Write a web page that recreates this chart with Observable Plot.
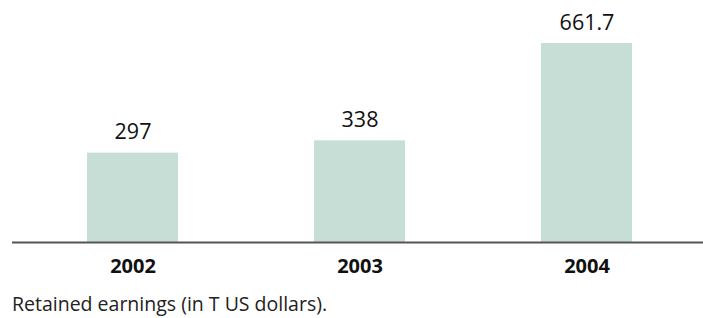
<!DOCTYPE html>
<html><head><meta charset="utf-8">
<script src="https://cdn.jsdelivr.net/npm/d3@7"></script>
<script src="https://cdn.jsdelivr.net/npm/@observablehq/plot@0.6"></script>
<style>
body{margin:0;background:#fff;font-family:"Open Sans",sans-serif;}
#cap{font-family:"Open Sans",sans-serif;font-size:19.5px;line-height:26px;color:#222;margin-left:12px;margin-top:5px;}
</style></head>
<body><div id="chart"></div><div id="cap">Retained earnings (in T US dollars).</div>
<script>
const years = ["2002","2003","2004"];
const values = [297, 338, 661.7];
const labels = ["297","338","661.7"];
const data = years.map((y,i)=>({year:y, value:values[i], label:labels[i]}));
const plot = Plot.plot({
  width:703, height:286, marginLeft:12, marginRight:0, marginTop:0, marginBottom:44,
  style:{fontFamily:"Open Sans, sans-serif", background:"#fff"},
  x:{domain:years, range:[19,700], paddingInner:0.6, paddingOuter:0.3, label:null},
  y:{domain:[0,661.7], range:[242,43], axis:null},
  marks:[
    Plot.barY(data,{x:"year", y:"value", fill:"#c6ded6"}),
    Plot.ruleY([0],{stroke:"#555", strokeWidth:2}),
    Plot.text(data,{x:"year", y:"value", text:"label", lineAnchor:"bottom", dy:-14, fontSize:21.5, fill:"#111"}),
    Plot.axisX({tickSize:0, tickPadding:16, fontSize:20, fontWeight:"bold", fill:"#111", label:null})
  ]
});
document.getElementById("chart").appendChild(plot);
</script></body></html>
